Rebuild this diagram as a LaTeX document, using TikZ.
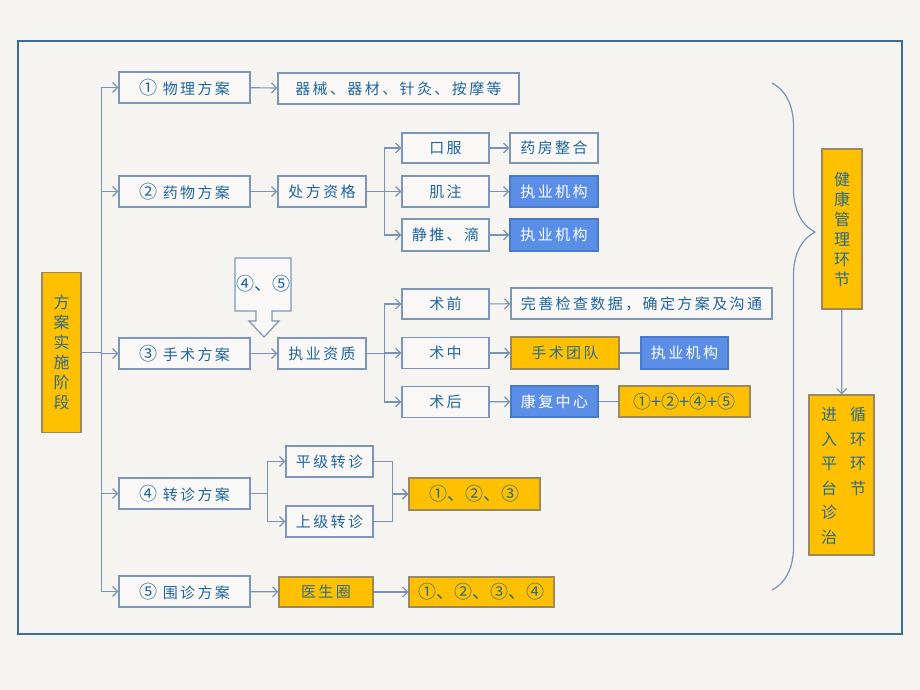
\documentclass[tikz,border=0pt]{standalone}
\usepackage{fontspec}
\setmainfont[LetterSpace=16]{Noto Sans CJK SC}
\newfontfamily\plainfont{Noto Sans CJK SC}
\newcommand{\numsz}{\plainfont\fontsize{18}{18}\selectfont}
\usepackage{tikz}
\usetikzlibrary{arrows.meta, decorations.pathreplacing}
\definecolor{bgcol}{HTML}{F5F4F0}
\definecolor{framecol}{HTML}{3D6C94}
\definecolor{boxline}{HTML}{7D96B8}
\definecolor{linkcol}{HTML}{7A93B5}
\definecolor{txtblue}{HTML}{1F65A0}
\definecolor{goldfill}{HTML}{FFC000}
\definecolor{goldline}{HTML}{9C8A5E}
\definecolor{goldtxt}{HTML}{2C6B86}
\definecolor{instfill}{HTML}{5B8EE6}
\definecolor{instline}{HTML}{4A78C8}
\tikzstyle{plan} = [rectangle, draw=boxline, line width=1.2pt, fill=bgcol!60!white, text=txtblue, minimum height=31pt, inner sep=0pt]
\tikzstyle{gold} = [plan, draw=goldline, fill=goldfill, text=goldtxt]
\tikzstyle{inst} = [plan, draw=instline, fill=instfill, text=white]
\tikzstyle{vtext} = [align=center, inner sep=0pt, font=\fontsize{16}{20}\selectfont]
\tikzstyle{arrow} = [line width=1.2pt, draw=linkcol, -{Straight Barb[length=5pt,width=10pt]}]
\tikzstyle{link} = [line width=1.2pt, draw=linkcol]

\begin{document}
\begin{tikzpicture}[x=1pt, y=-1pt, font=\fontsize{15}{18}\selectfont]
\useasboundingbox (0,0) rectangle (920,690);
\fill[bgcol] (0,0) rectangle (920,690);
\draw[framecol, line width=1.5pt] (18,41) rectangle (902,634);

% left column
\node (stage) [gold, vtext, minimum width=39pt, minimum height=160pt] at (61.5,352.5) {方\\案\\实\\施\\阶\\段};
\node (p1) [plan, minimum width=131pt] at (184.5,87.5) {{\numsz ①} 物理方案};
\node (p2) [plan, minimum width=131pt] at (184.5,191.5) {{\numsz ②} 药物方案};
\node (p3) [plan, minimum width=131pt] at (184.5,353.5) {{\numsz ③} 手术方案};
\node (p4) [plan, minimum width=131pt] at (184.5,493.5) {{\numsz ④} 转诊方案};
\node (p5) [plan, minimum width=131pt] at (184.5,591.5) {{\numsz ⑤} 围诊方案};

% physical / drug
\node (equip) [plan, minimum width=241pt] at (398.5,88.5) {器械、器材、针灸、按摩等};
\node (rx) [plan, minimum width=88pt] at (322,191.5) {处方资格};
\node (oral) [plan, minimum width=87pt, minimum height=30pt] at (445.5,148) {口服};
\node (im) [plan, minimum width=87pt] at (445.5,191.5) {肌注};
\node (iv) [plan, minimum width=87pt, minimum height=32pt] at (445.5,235) {静推、滴};
\node (pharm) [plan, minimum width=88pt, minimum height=30pt] at (554,148) {药房整合};
\node (inst1) [inst, minimum width=88pt] at (554,191.5) {执业机构};
\node (inst2) [inst, minimum width=88pt, minimum height=32pt] at (554,235) {执业机构};

% surgery
\node (lic) [plan, minimum width=88pt] at (322,353.5) {执业资质};
\node (pre) [plan, minimum width=87pt, minimum height=30pt] at (445.5,304) {术前};
\node (intra) [plan, minimum width=87pt] at (445.5,353) {术中};
\node (post) [plan, minimum width=87pt] at (445.5,402) {术后};
\node (prep) [plan, minimum width=261pt] at (641.5,303.5) {完善检查数据，确定方案及沟通};
\node (team) [gold, minimum width=108pt, minimum height=32pt] at (565,353) {手术团队};
\node (inst3) [inst, minimum width=87pt, minimum height=32pt] at (684.5,353) {执业机构};
\node (rehab) [inst, minimum width=87pt] at (554.5,401.5) {康复中心};
\node (combo) [gold, minimum width=131pt] at (684.5,401.5) {\numsz ①+②+④+⑤};
\draw[boxline, line width=1.2pt, fill=bgcol!60!white] (235,258) -- (291,258) -- (291,311) -- (272,311) -- (272,321) -- (279,321)
  -- (264,337) -- (249,321) -- (256,321) -- (256,311) -- (235,311) -- cycle;
\node (mark45) [text=txtblue] at (263,284) {\numsz ④、⑤};

% referral / consultation
\node (peer) [plan, minimum width=87pt] at (329.5,461.5) {平级转诊};
\node (upper) [plan, minimum width=87pt] at (329.5,521.5) {上级转诊};
\node (ref123) [gold, minimum width=131pt, minimum height=32pt] at (474.5,494) {\numsz ①、②、③};
\node (circle) [gold, minimum width=94pt, minimum height=30pt] at (326,592) {医生圈};
\node (ref1234) [gold, minimum width=145pt, minimum height=30pt] at (481.5,592) {\numsz ①、②、③、④};

% right side
\node (health) [gold, vtext, minimum width=40pt, minimum height=160pt] at (842,229) {健\\康\\管\\理\\环\\节};
\node (cycle) [gold, minimum width=65pt, minimum height=160pt] at (841.5,475) {};
\node (enter) [vtext, text=goldtxt, font=\fontsize{16}{24.6}\selectfont] at (829,476) {进\\入\\平\\台\\诊\\治};
\node (loop) [vtext, text=goldtxt, anchor=north, font=\fontsize{16}{24.6}\selectfont] at (858,0 |- enter.north) {循\\环\\环\\节};

% connectors
\foreach \n in {p1,p2,p3,p4,p5}
  \draw[arrow] (stage.east) -- ++(20,0) |- (\n.west);
\draw[arrow] (p1) -- (equip);
\draw[arrow] (p2) -- (rx);
\foreach \n in {oral,im,iv}
  \draw[arrow] (rx.east) -- ++(18,0) |- (\n.west);
\draw[arrow] (oral) -- (pharm);
\draw[arrow] (im) -- (inst1);
\draw[arrow] (iv) -- (inst2);
\draw[arrow] (p3) -- (lic);
\foreach \n in {pre,intra,post}
  \draw[arrow] (lic.east) -- ++(18,0) |- (\n.west);
\draw[arrow] (pre) -- (prep);
\draw[arrow] (intra) -- (team);
\draw[link] (team) -- (inst3);
\draw[arrow] (post) -- (rehab);
\draw[link] (rehab) -- (combo);
\foreach \n in {peer,upper}
  \draw[arrow] (p4.east) -- ++(17,0) |- (\n.west);
\foreach \n in {peer,upper}
  \draw[arrow] (\n.east) -- ++(19,0) |- (ref123.west);
\draw[arrow] (p5) -- (circle);
\draw[arrow] (circle) -- (ref1234);
\draw[arrow] (health) -- (cycle);
\draw[linkcol, line width=1.2pt, decorate, decoration={brace, amplitude=43pt, aspect=0.294}] (772,83) -- (772,590);
\end{tikzpicture}
\end{document}
